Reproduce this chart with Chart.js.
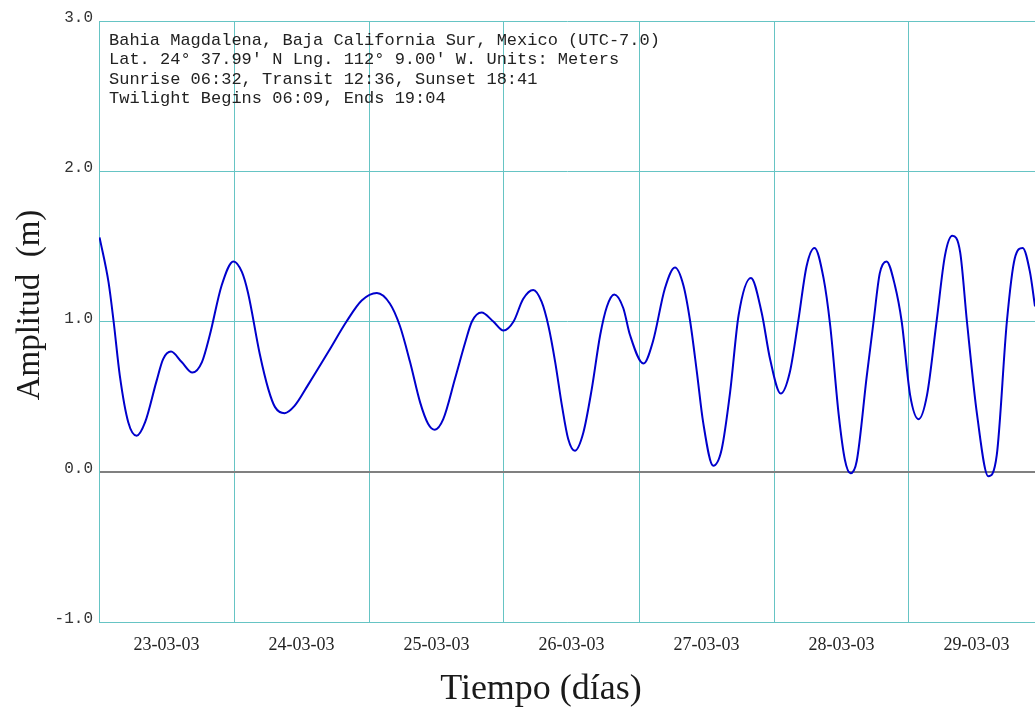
<!DOCTYPE html>
<html>
<head>
<meta charset="utf-8">
<title>Bahia Magdalena - marea</title>
<script src="https://cdn.jsdelivr.net/npm/chart.js@4.4.1/dist/chart.umd.min.js"></script>
<style>
  html, body { margin: 0; padding: 0; background: #fff; }
  #tideChart { display: block; }
</style>
</head>
<body>
<canvas id="tideChart" width="1035" height="709"></canvas>
<script>
// horas desde el inicio del 23-03-03
const hours = [
  0.1, 1.7, 2.6, 3.7, 5.2, 6.7, 8.2, 10.2, 11.4, 12.8, 14.7, 16.6, 18.3, 19.7, 21.8, 23.9,
  25.4, 26.5, 28.6, 30.1, 31.3, 33.0, 34.8, 37.2, 40.8, 44.0, 46.7, 49.4, 51.7, 53.5, 55.3,
  57.1, 58.5, 59.7, 61.2, 63.3, 65.1, 66.3, 68.0, 70.1, 71.9, 73.7, 75.4, 77.2, 78.7, 79.9,
  81.1, 82.3, 83.4, 84.6, 86.1, 87.6, 89.1, 90.3, 91.6, 93.2, 94.4, 96.8, 98.5, 100.6, 102.4,
  103.9, 105.1, 106.3, 107.4, 109.2, 110.7, 112.2, 113.7, 115.9, 117.8, 119.3, 121.2, 122.8,
  124.3, 125.8, 127.2, 128.8, 130.0, 131.5, 132.6, 133.6, 134.7, 136.5, 137.7, 138.8, 140.0,
  141.5, 142.7, 144.2, 145.7, 147.2, 148.9, 150.4, 151.7, 153.1, 154.3, 156.1, 158.1, 159.6,
  161.4, 162.8, 164.2, 165.5, 166.4
];
// nivel del mar (m)
const levels = [
  1.56, 1.26, 1.00, 0.64, 0.33, 0.24, 0.33, 0.60, 0.75, 0.80, 0.73, 0.66, 0.73, 0.91, 1.24, 1.40,
  1.33, 1.19, 0.78, 0.55, 0.43, 0.39, 0.44, 0.58, 0.80, 1.00, 1.14, 1.19, 1.12, 0.97, 0.73,
  0.46, 0.32, 0.28, 0.35, 0.62, 0.86, 1.00, 1.06, 1.00, 0.94, 1.00, 1.15, 1.21, 1.13, 0.97,
  0.73, 0.44, 0.22, 0.14, 0.26, 0.55, 0.91, 1.10, 1.18, 1.09, 0.91, 0.72, 0.87, 1.22, 1.36,
  1.24, 1.00, 0.66, 0.33, 0.04, 0.15, 0.53, 1.04, 1.29, 1.06, 0.75, 0.52, 0.66,
  1.00, 1.37, 1.49, 1.29, 0.97, 0.38, 0.08, -0.01, 0.07, 0.64, 1.00, 1.32, 1.40,
  1.24, 1.00, 0.51, 0.35, 0.51, 1.00, 1.44, 1.57, 1.46, 1.00, 0.38, -0.03, 0.11,
  1.00, 1.42, 1.49, 1.33, 1.10
];

const dayStarts = [0, 24, 48, 72, 96, 120, 144];
const dayLabels = ['23-03-03', '24-03-03', '25-03-03', '26-03-03', '27-03-03', '28-03-03', '29-03-03'];
const yTicks = [-1, 0, 1, 2, 3];

const infoLines = [
  'Bahia Magdalena, Baja California Sur, Mexico (UTC-7.0)',
  "Lat. 24° 37.99' N Lng. 112° 9.00' W. Units: Meters",
  'Sunrise 06:32, Transit 12:36, Sunset 18:41',
  'Twilight Begins 06:09, Ends 19:04'
];
const xTitle = 'Tiempo (días)';
const yTitle = 'Amplitud  (m)';

const gridTeal = '#66c4c4';
const zeroGrey = '#808080';
const ctx = document.getElementById('tideChart').getContext('2d');

// texto de cabecera y titulos de ejes
const textPlugin = {
  id: 'tideText',
  afterDraw(chart) {
    const c = chart.ctx;
    const area = chart.chartArea;
    c.save();
    c.fillStyle = '#222';
    c.font = '17px "Liberation Mono", monospace';
    c.textAlign = 'left';
    c.textBaseline = 'middle';
    infoLines.forEach((line, i) => {
      c.fillText(line, area.left + 10, area.top + 19 + i * 19.6);
    });

    c.fillStyle = '#1a1a1a';
    c.font = '36px "Liberation Serif", serif';
    c.textAlign = 'center';
    c.fillText(xTitle, 541, 690);

    c.translate(30, 305);
    c.rotate(-Math.PI / 2);
    c.font = '33px "Liberation Serif", serif';
    c.fillText(yTitle, 0, 0);
    c.restore();
  }
};

const tideChart = new Chart(ctx, {
  type: 'line',
  data: {
    datasets: [
      {
        label: 'Marea',
        data: hours.map((h, i) => ({ x: h, y: levels[i] })),
        borderColor: '#0000cc',
        borderWidth: 2,
        pointRadius: 0,
        fill: false,
        cubicInterpolationMode: 'monotone',
      },
    ],
  },
  options: {
    responsive: false,
    animation: false,
    layout: { padding: { top: 21, left: 0, right: 0, bottom: 0 } },
    plugins: {
      legend: { display: false },
      tooltip: { enabled: false },
    },
    scales: {
      x: {
        type: 'linear',
        min: 0,
        max: 166.4,
        afterBuildTicks: function (scale) {
          scale.ticks = dayStarts.map(v => ({ value: v }));
        },
        afterFit: function (scale) { scale.height = 87; },
        grid: { color: gridTeal, lineWidth: 1, drawTicks: false },
        border: { color: gridTeal, width: 1 },
        ticks: {
          autoSkip: false,
          maxRotation: 0,
          padding: 12,
          labelOffset: 67.5,
          color: '#222',
          font: { family: '"Liberation Serif", serif', size: 18 },
          callback: function (value, index) { return dayLabels[index]; },
        },
      },
      y: {
        min: -1,
        max: 3,
        afterBuildTicks: function (scale) {
          scale.ticks = yTicks.map(v => ({ value: v }));
        },
        afterFit: function (scale) { scale.width = 99; },
        grid: {
          drawTicks: false,
          color: yTicks.map(v => (v === 0 ? zeroGrey : gridTeal)),
          lineWidth: yTicks.map(v => (v === 0 ? 2 : 1)),
        },
        border: { color: gridTeal, width: 1 },
        ticks: {
          padding: 6,
          labelOffset: -3,
          color: '#333',
          font: { family: '"Liberation Mono", monospace', size: 16 },
          callback: function (value) { return value.toFixed(1); },
        },
      },
    },
  },
  plugins: [textPlugin],
});
</script>
</body>
</html>
